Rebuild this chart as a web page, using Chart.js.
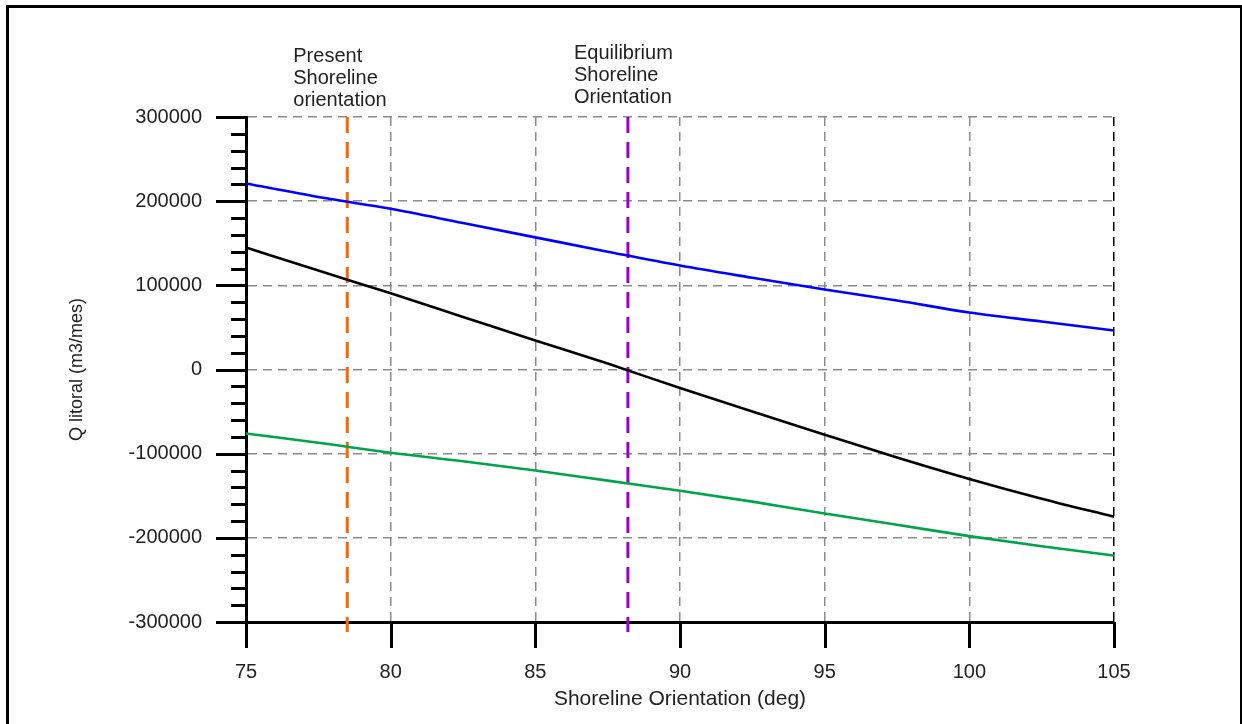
<!DOCTYPE html>
<html>
<head>
<meta charset="utf-8">
<title>Q litoral vs Shoreline Orientation</title>
<script src="https://cdn.jsdelivr.net/npm/chart.js@4.4.1/dist/chart.umd.min.js"></script>
<style>
  html, body { margin: 0; padding: 0; background: #fff; overflow: hidden; }
  #wrap { position: relative; width: 1242px; height: 724px; }
  #frame {
    position: absolute; left: 6px; top: 5px; width: 1231px; height: 730px;
    border-left: 3px solid #000; border-top: 3px solid #000; border-right: 3px solid #000;
    pointer-events: none;
  }
</style>
</head>
<body>
<div id="wrap">
  <canvas id="qChart" width="1242" height="724"></canvas>
  <div id="frame"></div>
</div>
<script>
// shoreline orientation (deg) where the transport curves are sampled
const orientations = [75, 77.5, 80, 82.5, 85, 87.5, 90, 92.5, 95, 97.5, 100, 102.5, 105];
// littoral transport (m3/month)
const qPositive = [221000, 205000, 191000, 174000, 157000, 140000, 123500, 109000, 95000, 82000, 67700, 57000, 46300];
const qNet = [145000, 117500, 90500, 62500, 34500, 7000, -22000, -50000, -77500, -104500, -130000, -153500, -175000];
const qNegative = [-76000, -87000, -99000, -109000, -120000, -132000, -144000, -157000, -171000, -184500, -198000, -210000, -221000];

const presentOrientation = 78.5;
const equilibriumOrientation = 88.2;
const presentLabel = ["Present", "Shoreline", "orientation"];
const equilibriumLabel = ["Equilibrium", "Shoreline", "Orientation"];

const xMin = 75, xMax = 105, xStep = 5;
const yMin = -300000, yMax = 300000, yMajor = 100000, yMinor = 20000;
const markerLow = -312000; // vertical markers run a little past the axis

const FONT = "'Liberation Sans', Arial, sans-serif";
const GRID_GREY = "#8c8c8c";

function pts(values) {
  return orientations.map((x, i) => ({ x: x, y: values[i] }));
}

function curve(values, color) {
  return {
    data: pts(values),
    borderColor: color,
    borderWidth: 2.6,
    pointRadius: 0,
    showLine: true,
    cubicInterpolationMode: "monotone",
    clip: false,
  };
}

function marker(x, color) {
  return {
    data: [{ x: x, y: yMax }, { x: x, y: markerLow }],
    borderColor: color,
    borderWidth: 3,
    borderDash: [16, 9],
    pointRadius: 0,
    showLine: true,
    clip: false,
  };
}

// tick marks: long at majors, short at minors on y; long down-ticks on x
const tickMarks = {
  id: "tickMarks",
  afterDraw(chart) {
    const xs = chart.scales.x;
    const ys = chart.scales.y;
    const ctx = chart.ctx;
    ctx.save();
    ctx.strokeStyle = "#000";
    ctx.lineWidth = 3;
    ctx.beginPath();
    ys.ticks.forEach((t) => {
      const py = Math.round(ys.getPixelForValue(t.value)) + 0.5;
      const len = t.value % yMajor === 0 ? 30 : 15;
      ctx.moveTo(xs.left - len, py);
      ctx.lineTo(xs.left, py);
    });
    xs.ticks.forEach((t) => {
      const px = Math.round(xs.getPixelForValue(t.value)) + 0.5;
      ctx.moveTo(px, ys.bottom);
      ctx.lineTo(px, ys.bottom + 26);
    });
    ctx.stroke();
    ctx.restore();
  },
};

// text above each vertical marker
const markerLabels = {
  id: "markerLabels",
  afterDraw(chart) {
    const xs = chart.scales.x;
    const top = chart.scales.y.top;
    const ctx = chart.ctx;
    ctx.save();
    ctx.fillStyle = "#222";
    ctx.font = "20px " + FONT;
    ctx.textAlign = "left";
    ctx.textBaseline = "middle";
    const draw = (lines, value, offset) => {
      const px = xs.getPixelForValue(value) - 54;
      lines.forEach((s, i) => ctx.fillText(s, px, top + offset + i * 22));
    };
    draw(presentLabel, presentOrientation, -61);
    draw(equilibriumLabel, equilibriumOrientation, -64);
    ctx.restore();
  },
};

new Chart(document.getElementById("qChart"), {
  type: "scatter",
  data: {
    datasets: [
      curve(qPositive, "#0000ff"),
      curve(qNet, "#000000"),
      curve(qNegative, "#00a54a"),
      marker(presentOrientation, "#ff6600"),
      marker(equilibriumOrientation, "#9900cc"),
    ],
  },
  options: {
    responsive: false,
    animation: false,
    layout: { padding: { top: 117, right: 128, left: 0, bottom: 0 } },
    plugins: { legend: { display: false }, tooltip: { enabled: false } },
    scales: {
      x: {
        type: "linear",
        min: xMin,
        max: xMax,
        afterFit(scale) { scale.height = 102; },
        ticks: {
          stepSize: xStep,
          padding: 38,
          color: "#222",
          font: { family: FONT, size: 20 },
          maxRotation: 0,
        },
        grid: {
          drawTicks: false,
          lineWidth: 1.5,
          color(ctx) {
            const v = ctx.tick && ctx.tick.value;
            if (v === xMin) return "rgba(0,0,0,0)";
            if (v === xMax) return "#000";
            return GRID_GREY;
          },
        },
        border: { display: true, color: "#000", width: 3, dash: [9, 6] },
        title: {
          display: true,
          text: "Shoreline Orientation (deg)",
          color: "#222",
          font: { family: FONT, size: 21 },
          padding: { top: 0, bottom: 12 },
        },
      },
      y: {
        min: yMin,
        max: yMax,
        afterFit(scale) { scale.width = 246; },
        ticks: {
          stepSize: yMinor,
          autoSkip: false,
          padding: 44,
          color: "#222",
          font: { family: FONT, size: 20 },
          callback(v) { return v % yMajor === 0 ? String(v) : ""; },
        },
        grid: {
          drawTicks: false,
          lineWidth: 1.5,
          color(ctx) {
            const v = ctx.tick && ctx.tick.value;
            if (v % yMajor !== 0 || v === yMin) return "rgba(0,0,0,0)";
            return GRID_GREY;
          },
        },
        border: { display: true, color: "#000", width: 3, dash: [9, 6] },
        title: {
          display: true,
          text: "Q litoral (m3/mes)",
          color: "#222",
          font: { family: FONT, size: 18 },
          padding: { top: 66, bottom: 0 },
        },
      },
    },
  },
  plugins: [tickMarks, markerLabels],
});
</script>
</body>
</html>
